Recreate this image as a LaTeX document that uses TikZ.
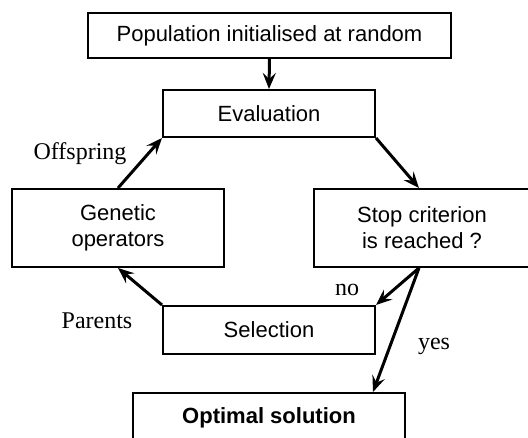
\documentclass[tikz,border=0pt]{standalone}
\usepackage{fontspec}
\setmainfont{Liberation Serif}
\setsansfont{Liberation Sans}
\usetikzlibrary{arrows.meta}
\begin{document}
\begin{tikzpicture}[x=1pt,y=-1pt,
  box/.style={draw,line width=2pt,rectangle,inner sep=0pt,align=center,
    font=\sffamily\fontsize{22}{26}\selectfont},
  arr/.style={line width=3pt,-{Stealth[length=16pt,width=13pt,inset=6pt]}},
  lbl/.style={font=\rmfamily\fontsize{24}{28}\selectfont,inner sep=0pt}]
\clip (0,0) rectangle (528,438);
\node[box,minimum width=363pt,minimum height=45pt] (top) at (269.5,35.5) {Population initialised at random};
\node[box,minimum width=212pt,minimum height=47pt] (eval) at (269,113.5) {Evaluation};
\node[box,minimum width=212pt,minimum height=78pt] (gen) at (118,228) {Genetic\\operators};
\node[box,minimum width=216pt,minimum height=78pt] (stop) at (422,228) {Stop criterion\\is reached ?};
\node[box,minimum width=212pt,minimum height=48pt] (sel) at (269,330) {Selection};
\node[box,minimum width=272pt,minimum height=50pt,font=\sffamily\bfseries\fontsize{22}{26}\selectfont] (opt) at (269,418) {Optimal solution};
\draw[arr] (top.south) -- (eval.north);
\draw[arr] (gen.north) -- (eval.south west);
\draw[arr] (eval.south east) -- ([xshift=-3pt]stop.north);
\draw[arr] ([xshift=-3pt]stop.south) -- (sel.north east);
\draw[arr] ([xshift=-3pt]stop.south) -- ([xshift=104pt]opt.north);
\draw[arr] (sel.north west) -- (gen.south);
\node[lbl] (loff) at (80,154) {Offspring};
\node[lbl] (lpar) at (97,321) {Parents};
\node[lbl] (lno) at (347,290) {no};
\node[lbl] (lyes) at (434,346) {yes};
\end{tikzpicture}
\end{document}
